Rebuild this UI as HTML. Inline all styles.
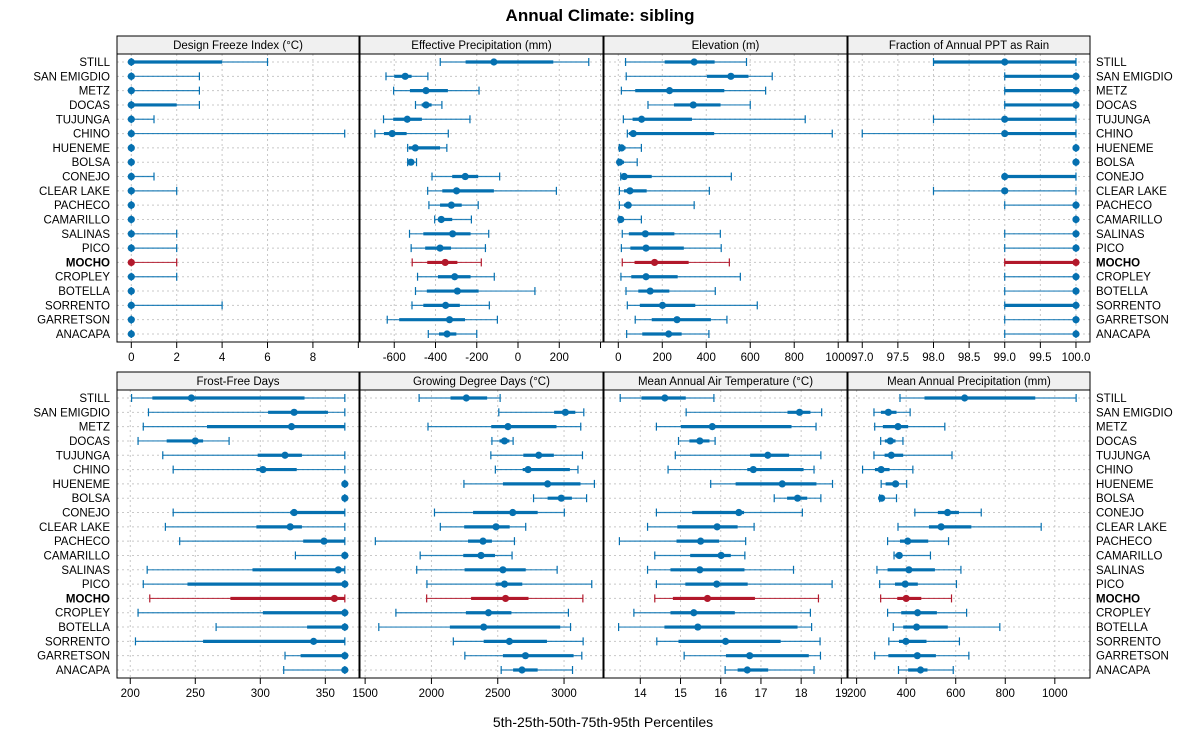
<!DOCTYPE html>
<html><head><meta charset="utf-8"><style>
body{margin:0;background:#fff;}
svg{display:block;font-family:"Liberation Sans",sans-serif;}
</style></head><body>
<svg id="chart" width="1200" height="750" viewBox="0 0 1200 750" xmlns="http://www.w3.org/2000/svg">
<text x="600" y="21" text-anchor="middle" font-size="17" font-weight="bold">Annual Climate: sibling</text>
<text x="603" y="727" text-anchor="middle" font-size="14">5th-25th-50th-75th-95th Percentiles</text>
</svg>
<script>
const series = ["STILL","SAN EMIGDIO","METZ","DOCAS","TUJUNGA","CHINO","HUENEME","BOLSA","CONEJO","CLEAR LAKE","PACHECO","CAMARILLO","SALINAS","PICO","MOCHO","CROPLEY","BOTELLA","SORRENTO","GARRETSON","ANACAPA"];
const highlight = "MOCHO";
const freezeIndex = [[0,0,0,4,6],[0,0,0,0,3],[0,0,0,0,3],[0,0,0,2,3],[0,0,0,0,1],[0,0,0,0,9.4],[0,0,0,0,0],[0,0,0,0,0],[0,0,0,0,1],[0,0,0,0,2],[0,0,0,0,0],[0,0,0,0,0],[0,0,0,0,2],[0,0,0,0,2],[0,0,0,0,2],[0,0,0,0,2],[0,0,0,0,0],[0,0,0,0,4],[0,0,0,0,0],[0,0,0,0,0]];
const effPrecip = [[-377,-254,-117,171,343],[-640,-600,-547,-516,-437],[-603,-524,-446,-340,-189],[-497,-467,-446,-419,-369],[-652,-605,-537,-466,-233],[-694,-650,-610,-540,-338],[-535,-529,-498,-378,-345],[-535,-529,-519,-508,-492],[-417,-319,-256,-193,-89],[-438,-367,-298,-117,186],[-432,-378,-323,-273,-193],[-404,-388,-372,-319,-226],[-526,-459,-317,-230,-142],[-518,-450,-378,-325,-158],[-513,-440,-353,-294,-178],[-487,-388,-307,-230,-115],[-497,-442,-294,-191,82],[-514,-459,-351,-282,-139],[-634,-576,-332,-257,-100],[-435,-383,-344,-299,-200]];
const elevation = [[33,211,345,438,583],[36,403,512,592,700],[14,77,233,482,670],[135,253,341,465,600],[23,65,106,335,850],[41,48,68,436,973],[5,8,15,33,105],[0,3,6,26,86],[11,18,27,152,514],[5,26,53,129,414],[5,26,45,56,345],[3,6,11,18,105],[18,48,123,255,464],[14,55,126,298,468],[18,74,165,320,505],[12,59,126,270,555],[35,91,145,232,441],[41,98,201,350,632],[77,152,267,421,494],[38,109,229,288,412]];
const rainFraction = [[98,98,99,100,100],[99,99,100,100,100],[99,99,100,100,100],[99,99,100,100,100],[98,99,99,100,100],[97,99,99,100,100],[100,100,100,100,100],[100,100,100,100,100],[99,99,99,100,100],[98,99,99,99,100],[99,100,100,100,100],[100,100,100,100,100],[99,100,100,100,100],[99,100,100,100,100],[99,99,100,100,100],[99,100,100,100,100],[99,100,100,100,100],[99,99,100,100,100],[99,100,100,100,100],[99,100,100,100,100]];
const frostFree = [[201,217,247,334,365],[214,306,326,352,365],[210,259,324,365,365],[206,228,250,256,276],[225,298,319,332,365],[233,297,302,328,365],[365,365,365,365,365],[365,365,365,365,365],[233,323,326,365,365],[227,297,323,332,365],[238,333,349,365,365],[327,365,365,365,365],[213,294,360,365,365],[210,244,365,365,365],[215,277,357,365,365],[206,302,365,365,365],[266,336,365,365,365],[204,256,341,365,365],[319,331,365,365,365],[318,365,365,365,365]];
const growingDegDays = [[1907,2144,2263,2420,2518],[2508,2925,3010,3085,3149],[1974,2451,2577,2943,3126],[2456,2513,2551,2588,2616],[2448,2693,2809,2923,3139],[2482,2688,2729,3044,3105],[2245,2539,2876,3124,3229],[2770,2876,2979,3059,3170],[2023,2314,2613,2801,3002],[2067,2247,2487,2590,2711],[1577,2276,2389,2456,2626],[1915,2240,2374,2479,2608],[1889,2250,2539,2711,2948],[1966,2484,2551,2685,3209],[1964,2299,2559,2732,3142],[1732,2260,2430,2603,3033],[1603,2139,2394,2971,3049],[2165,2394,2588,2871,3144],[2252,2539,2709,3072,3134],[2526,2616,2683,2801,3064]];
const meanAirTemp = [[13.50,14.03,14.61,15.13,15.83],[15.14,17.66,17.96,18.23,18.51],[14.40,15.01,15.79,17.76,18.37],[14.95,15.22,15.48,15.72,15.86],[14.87,16.73,17.17,17.70,18.49],[14.69,16.66,16.81,18.06,18.32],[15.75,16.37,17.53,18.38,18.78],[17.33,17.65,17.91,18.15,18.49],[14.40,15.29,16.45,16.58,18.03],[14.18,14.92,15.91,16.42,16.83],[13.48,14.90,15.50,15.96,16.62],[14.36,15.24,16.01,16.25,16.60],[14.18,14.75,15.48,16.59,17.81],[14.40,15.12,15.90,16.67,18.77],[14.36,14.81,15.67,16.85,18.43],[13.84,14.75,15.33,16.35,18.23],[13.46,14.60,15.43,17.91,18.26],[14.41,14.95,16.12,17.49,18.47],[15.09,16.13,16.72,18.19,18.48],[16.11,16.42,16.66,17.18,18.32]];
const meanPrecip = [[375,474,636,921,1086],[270,298,328,361,416],[273,306,367,408,556],[297,314,336,357,387],[270,313,340,388,585],[224,274,299,333,427],[299,317,357,371,402],[293,295,301,306,361],[435,528,567,613,703],[367,492,541,663,945],[325,375,406,489,571],[351,356,372,382,498],[282,325,411,516,621],[293,355,396,447,603],[297,364,400,461,583],[325,380,446,524,644],[348,388,442,568,778],[330,371,399,482,615],[273,328,445,520,653],[369,408,458,486,590]];

const ticksFreeze=[0,2,4,6,8,10], labelsFreeze=["0","2","4","6","8",""];
const ticksEff=[-600,-400,-200,0,200,400], labelsEff=["-600","-400","-200","0","200",""];
const ticksElev=[0,200,400,600,800,1000], labelsElev=["0","200","400","600","800","1000"];
const ticksRain=[97,97.5,98,98.5,99,99.5,100], labelsRain=["97.0","97.5","98.0","98.5","99.0","99.5","100.0"];
const ticksFrost=[200,250,300,350], labelsFrost=["200","250","300","350"];
const ticksGdd=[1500,2000,2500,3000], labelsGdd=["1500","2000","2500","3000"];
const ticksTemp=[14,15,16,17,18,19], labelsTemp=["14","15","16","17","18","19"];
const ticksPrecip=[200,400,600,800,1000], labelsPrecip=["200","400","600","800","1000"];

const panels=[
 {name:"Design Freeze Index (°C)",slug:"design-freeze-index",data:freezeIndex,dom:[-0.63,10.03],ticks:ticksFreeze,labels:labelsFreeze,col:0,row:0},
 {name:"Effective Precipitation (mm)",slug:"effective-precipitation",data:effPrecip,dom:[-766,412],ticks:ticksEff,labels:labelsEff,col:1,row:0},
 {name:"Elevation (m)",slug:"elevation",data:elevation,dom:[-65,1040],ticks:ticksElev,labels:labelsElev,col:2,row:0},
 {name:"Fraction of Annual PPT as Rain",slug:"fraction-rain",data:rainFraction,dom:[96.80,100.197],ticks:ticksRain,labels:labelsRain,col:3,row:0},
 {name:"Frost-Free Days",slug:"frost-free-days",data:frostFree,dom:[189.8,375.9],ticks:ticksFrost,labels:labelsFrost,col:0,row:1},
 {name:"Growing Degree Days (°C)",slug:"growing-degree-days",data:growingDegDays,dom:[1461.3,3293.8],ticks:ticksGdd,labels:labelsGdd,col:1,row:1},
 {name:"Mean Annual Air Temperature (°C)",slug:"mean-air-temperature",data:meanAirTemp,dom:[13.097,19.14],ticks:ticksTemp,labels:labelsTemp,col:2,row:1},
 {name:"Mean Annual Precipitation (mm)",slug:"mean-annual-precipitation",data:meanPrecip,dom:[165.2,1142],ticks:ticksPrecip,labels:labelsPrecip,col:3,row:1}
];
const colX=[[117,359],[360,603],[604,847],[848,1090]];
const rowY=[{strip:36,top:54,bot:342},{strip:372,top:390,bot:678}];
const NS="http://www.w3.org/2000/svg";
const svg=document.getElementById("chart");
function mk(tag,attrs,parent){const e=document.createElementNS(NS,tag);for(const k in attrs)e.setAttribute(k,attrs[k]);(parent||svg).appendChild(e);return e;}
const rows=series.filter(s=>s!=="ANACAPA"||true);
// series list has 20 names? use 19 rows actually present
const names=["STILL","SAN EMIGDIO","METZ","DOCAS","TUJUNGA","CHINO","HUENEME","BOLSA","CONEJO","CLEAR LAKE","PACHECO","CAMARILLO","SALINAS","PICO","MOCHO","CROPLEY","BOTELLA","SORRENTO","GARRETSON","ANACAPA"];
const N=names.length;
function yPos(r,i){const R=rowY[r];const pad=8;return R.top+pad+i*(R.bot-R.top-2*pad)/(N-1);}

// row labels
for(let r=0;r<2;r++){
 for(let i=0;i<N;i++){
  const y=yPos(r,i);
  const isH=names[i]===highlight;
  const l=mk("text",{x:110,y:y+4,"text-anchor":"end","font-size":11.5,"font-weight":isH?"bold":"normal"});
  l.textContent=names[i];
  
  
  const rl=mk("text",{x:1096,y:y+4,"text-anchor":"start","font-size":11.5,"font-weight":isH?"bold":"normal"});
  rl.textContent=names[i];
  
  
 }
}

panels.forEach(p=>{
 const [x0,x1]=colX[p.col];const R=rowY[p.row];
 const sx=v=>x0+(v-p.dom[0])/(p.dom[1]-p.dom[0])*(x1-x0);
 const g=mk("g",{});
 
 
 // strip
 const st=mk("rect",{x:x0,y:R.strip,width:x1-x0,height:R.top-R.strip,fill:"#f0f0f0",stroke:"#000","stroke-width":1},g);
 
 
 const stt=mk("text",{x:(x0+x1)/2,y:R.strip+13,"text-anchor":"middle","font-size":11.5},g);
 stt.textContent=p.name;
 
 
 // grid
 for(let i=0;i<N;i++){const y=yPos(p.row,i);
  mk("line",{x1:x0,x2:x1,y1:y,y2:y,stroke:"#c8c8c8","stroke-width":1,"stroke-dasharray":"2,3"},g);}
 p.ticks.forEach((t,k)=>{const x=sx(t);
  if(x>x0+1&&x<x1-1)mk("line",{x1:x,x2:x,y1:R.top,y2:R.bot,stroke:"#c8c8c8","stroke-width":1,"stroke-dasharray":"2,3"},g);
  mk("line",{x1:x,x2:x,y1:R.bot,y2:R.bot+6,stroke:"#000","stroke-width":1},g);
  if(p.labels[k]!==""){const tl=mk("text",{x:x,y:R.bot+19,"text-anchor":"middle","font-size":11.5},g);tl.textContent=p.labels[k];
   
   }
 });
 // marks
 p.data.forEach((d,i)=>{
  const y=yPos(p.row,i);const col=names[i]===highlight?"#b2182b":"#0570b0";
  const m=mk("g",{},g);
  
  
  mk("line",{x1:sx(d[0]),x2:sx(d[4]),y1:y,y2:y,stroke:col,"stroke-width":1.2,"stroke-opacity":0.85},m);
  mk("line",{x1:sx(d[0]),x2:sx(d[0]),y1:y-4,y2:y+4,stroke:col,"stroke-width":1.2},m);
  mk("line",{x1:sx(d[4]),x2:sx(d[4]),y1:y-4,y2:y+4,stroke:col,"stroke-width":1.2},m);
  mk("line",{x1:sx(d[1]),x2:sx(d[3]),y1:y,y2:y,stroke:col,"stroke-width":3.2},m);
  mk("circle",{cx:sx(d[2]),cy:y,r:3.6,fill:col},m);
 });
 const fr=mk("rect",{x:x0,y:R.top,width:x1-x0,height:R.bot-R.top,fill:"none",stroke:"#000","stroke-width":1},g);
 
 
});
</script>
</body></html>
